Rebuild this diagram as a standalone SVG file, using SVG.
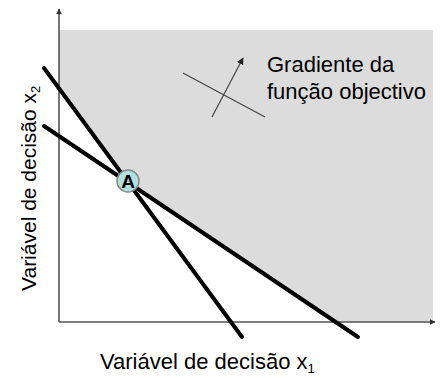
<svg xmlns="http://www.w3.org/2000/svg" width="448" height="378" viewBox="0 0 448 378">
<style>
text{font-family:"Liberation Sans",Arial,sans-serif;fill:#000}
.lbl{font-size:22px}
.sub{font-size:13px}
.axis{stroke:#555;stroke-width:1.6;fill:none}
.con{stroke:#000;stroke-width:4;stroke-linecap:round}
.grad{stroke:#444;stroke-width:1.2;fill:none}
</style>
<defs>
<marker id="ah" viewBox="0 0 10 10" refX="9" refY="5" markerWidth="6" markerHeight="6" orient="auto" markerUnits="userSpaceOnUse">
<path d="M0,0 L10,5 L0,10 z" fill="#333"/>
</marker>
<marker id="ag" viewBox="0 0 10 10" refX="9" refY="5" markerWidth="7" markerHeight="7" orient="auto" markerUnits="userSpaceOnUse">
<path d="M0,0 L10,5 L0,10 z" fill="#222"/>
</marker>
</defs>
<g id="region">
<polygon points="59,30 433,30 433,322 336,322 128,181 59,88" fill="#dcdcdc"/>
</g>
<g id="connectors">
<line class="axis" x1="59" y1="322" x2="59" y2="9" marker-end="url(#ah)"/>
<line class="axis" x1="59" y1="322" x2="435" y2="322" marker-end="url(#ah)"/>
<line class="con" x1="44" y1="68" x2="242" y2="337"/>
<line class="con" x1="44" y1="126" x2="358" y2="337"/>
<line class="grad" x1="183" y1="73" x2="265" y2="117"/>
<line class="grad" x1="212" y1="117" x2="243" y2="58" marker-end="url(#ag)"/>
</g>
<g id="pointA">
<circle cx="128" cy="181" r="11" fill="#b0e0e0" stroke="#888" stroke-width="1.5"/>
<text x="128" y="188" font-size="19" font-weight="bold" text-anchor="middle">A</text>
</g>
<g id="gradLabel">
<text class="lbl" x="267" y="72">Gradiente da</text>
<text class="lbl" x="267" y="99">função objectivo</text>
</g>
<g id="xLabel">
<text class="lbl" x="100" y="369">Variável de decisão x<tspan class="sub" dy="4">1</tspan></text>
</g>
<g id="yLabel">
<text class="lbl" font-size="21" style="font-size:21px" transform="translate(36,291) rotate(-90)">Variável de decisão x<tspan class="sub" dy="4">2</tspan></text>
</g>
</svg>
